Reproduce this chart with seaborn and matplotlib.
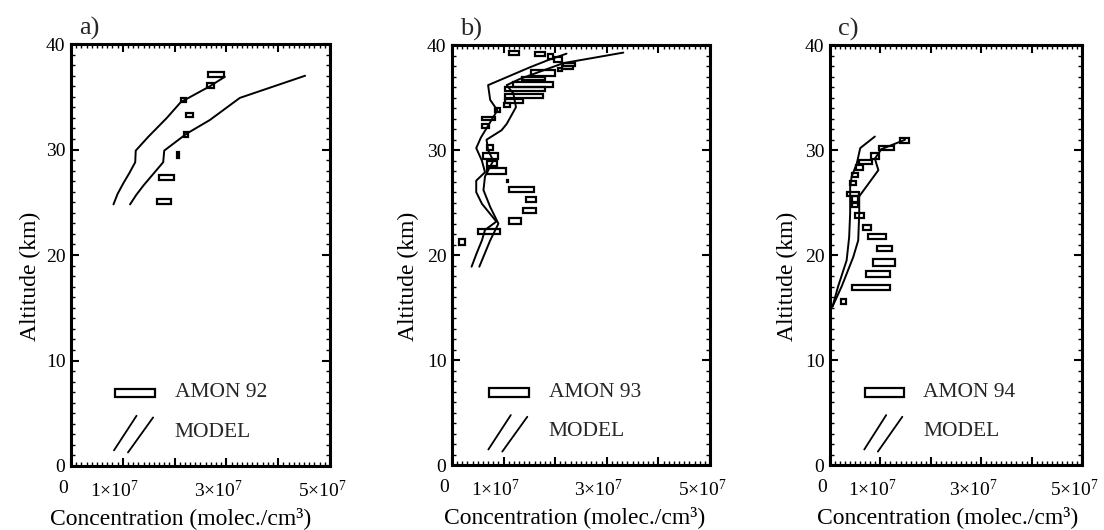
import matplotlib
matplotlib.use("Agg")
import matplotlib.pyplot as plt
import matplotlib.transforms as mtransforms
import seaborn as sns
from matplotlib.ticker import FixedLocator, FixedFormatter, MultipleLocator

# concentrations in units of 1e7 molec./cm3, altitudes in km
a_left_x = [0.82, 0.90, 1.01, 1.13, 1.24, 1.25, 1.49, 1.85, 2.12, 2.68, 2.97]
a_left_z = [24.8, 25.8, 26.8, 27.8, 28.8, 29.9, 31.2, 33.0, 34.5, 36.0, 36.9]
a_right_x = [1.14, 1.26, 1.40, 1.78, 1.80, 2.23, 2.68, 3.26, 4.52]
a_right_z = [24.8, 25.7, 26.6, 28.8, 29.9, 31.5, 32.8, 34.9, 37.0]
a_box_lo = [2.65, 2.62, 2.13, 2.22, 2.19, 2.04, 1.69, 1.67]
a_box_hi = [2.96, 2.77, 2.22, 2.36, 2.25, 2.08, 1.99, 1.94]
a_box_zlo = [36.9, 35.8, 34.5, 33.05, 31.2, 29.2, 27.1, 24.8]
a_box_zhi = [37.4, 36.3, 34.9, 33.5, 31.7, 29.8, 27.6, 25.3]

b_left_x = [0.38, 0.48, 0.58, 0.64, 0.86, 0.58, 0.47, 0.47, 0.64, 0.58, 0.47, 0.56,
            0.72, 0.88, 0.74, 0.70, 1.51, 1.87, 2.22]
b_left_z = [18.9, 20.2, 21.4, 22.4, 23.2, 24.9, 26.0, 27.1, 27.9, 29.0, 30.2, 31.2,
            32.5, 33.8, 34.8, 36.2, 37.9, 38.6, 39.2]
b_right_x = [0.53, 0.74, 0.90, 0.74, 0.61, 0.64, 0.80, 0.70, 0.67, 0.96, 1.06, 1.24,
             1.19, 1.06, 1.32, 2.16, 3.32]
b_right_z = [18.9, 21.4, 23.0, 24.6, 26.2, 27.5, 29.0, 30.0, 31.0, 31.9, 32.5, 34.1,
             35.4, 36.2, 36.8, 38.3, 39.3]
b_box_lo = [1.11, 1.60, 1.87, 1.98, 2.16, 2.13, 2.06, 1.54, 1.35, 1.19, 1.03, 1.03,
            1.03, 1.01, 0.83, 0.59, 0.59, 0.67, 0.61, 0.67, 0.67, 1.06, 1.11, 1.43,
            1.37, 1.10, 0.51, 0.14]
b_box_hi = [1.29, 1.80, 1.96, 2.13, 2.38, 2.35, 2.13, 2.00, 1.80, 1.96, 1.80, 1.77,
            1.38, 1.12, 0.93, 0.83, 0.72, 0.80, 0.90, 0.87, 1.05, 1.08, 1.58, 1.63,
            1.63, 1.34, 0.93, 0.25]
b_box_zlo = [39.1, 39.0, 38.7, 38.4, 38.0, 37.7, 37.5, 37.1, 36.7, 36.0, 35.6, 35.0,
             34.5, 34.1, 33.6, 32.9, 32.1, 30.0, 29.2, 28.5, 27.7, 27.0, 26.0, 25.1,
             24.0, 23.0, 22.0, 21.0]
b_box_zhi = [39.5, 39.4, 39.2, 38.9, 38.3, 38.0, 37.8, 37.6, 37.0, 36.5, 36.0, 35.4,
             34.9, 34.5, 34.0, 33.2, 32.5, 30.5, 29.7, 29.0, 28.3, 27.2, 26.5, 25.5,
             24.5, 23.5, 22.45, 21.5]

c_left_x = [0.05, 0.16, 0.33, 0.38, 0.40, 0.40, 0.43, 0.53, 0.60, 0.89]
c_left_z = [15.1, 17.0, 19.5, 21.7, 24.0, 26.5, 27.5, 28.7, 30.2, 31.3]
c_right_x = [0.05, 0.23, 0.46, 0.56, 0.58, 0.58, 0.96, 0.89, 1.02, 1.49]
c_right_z = [15.1, 17.0, 19.8, 21.4, 24.0, 25.6, 28.1, 29.2, 30.1, 31.0]
c_box_lo = [1.39, 0.98, 0.81, 0.58, 0.52, 0.43, 0.40, 0.33, 0.43, 0.43, 0.50, 0.66,
            0.76, 0.93, 0.85, 0.71, 0.43, 0.22]
c_box_hi = [1.57, 1.27, 0.98, 0.83, 0.65, 0.56, 0.52, 0.58, 0.55, 0.55, 0.67, 0.81,
            1.12, 1.24, 1.29, 1.19, 1.19, 0.32]
c_box_zlo = [30.7, 30.0, 29.2, 28.7, 28.1, 27.4, 26.7, 25.6, 25.1, 24.6, 23.5, 22.4,
             21.5, 20.4, 19.0, 17.9, 16.7, 15.3]
c_box_zhi = [31.2, 30.4, 29.7, 29.1, 28.6, 27.8, 27.1, 26.0, 25.6, 25.0, 24.0, 22.9,
             22.0, 20.9, 19.6, 18.5, 17.2, 15.8]

x_tick_vals = [0, 1, 2, 3, 4, 5]
x_tick_text = ['0', r'$1{\times}10^{7}$', '', r'$3{\times}10^{7}$', '', r'$5{\times}10^{7}$']
y_tick_vals = [0, 10, 20, 30, 40]

panel_tags = ['a)', 'b)', 'c)']
campaigns = ['AMON 92', 'AMON 93', 'AMON 94']

sns.set_style('ticks')
plt.rcParams['font.family'] = ['Liberation Serif', 'DejaVu Serif']
plt.rcParams['mathtext.fontset'] = 'custom'
plt.rcParams['mathtext.rm'] = 'Liberation Serif'
plt.rcParams['mathtext.it'] = 'Liberation Serif'

fig = plt.figure(figsize=(11.04, 5.30), dpi=100)
positions = [[0.0643, 0.1208, 0.2346, 0.796],
             [0.4094, 0.1226, 0.2337, 0.792],
             [0.7518, 0.1226, 0.2283, 0.792]]

panels = [
    (a_left_x, a_left_z, a_right_x, a_right_z, a_box_lo, a_box_hi, a_box_zlo, a_box_zhi),
    (b_left_x, b_left_z, b_right_x, b_right_z, b_box_lo, b_box_hi, b_box_zlo, b_box_zhi),
    (c_left_x, c_left_z, c_right_x, c_right_z, c_box_lo, c_box_hi, c_box_zlo, c_box_zhi),
]
leg_shift = [0.025, 0.0, -0.005]
ylab_x = [-0.158, -0.17, -0.17]
xlab_x = [0.425, 0.477, 0.468]

# x tick labels in the original sit a little left of their ticks
shift_left = mtransforms.ScaledTranslation(-8 / 100, 0, fig.dpi_scale_trans)

for i, (lx, lz, rx, rz, blo, bhi, bzlo, bzhi) in enumerate(panels):
    ax = fig.add_axes(positions[i])
    sns.lineplot(x=lx, y=lz, sort=False, estimator=None, color='black', lw=1.4, ax=ax)
    sns.lineplot(x=rx, y=rz, sort=False, estimator=None, color='black', lw=1.4, ax=ax)
    widths = [h - l for l, h in zip(blo, bhi)]
    heights = [h - l for l, h in zip(bzlo, bzhi)]
    centers = [(l + h) / 2 for l, h in zip(bzlo, bzhi)]
    ax.barh(centers, widths, height=heights, left=blo, fill=False,
            edgecolor='black', linewidth=1.6)

    ax.set_xlim(0, 5)
    ax.set_ylim(0, 40)
    ax.xaxis.set_major_locator(FixedLocator(x_tick_vals))
    ax.xaxis.set_major_formatter(FixedFormatter(x_tick_text))
    ax.xaxis.set_minor_locator(MultipleLocator(0.1))
    ax.yaxis.set_major_locator(FixedLocator(y_tick_vals))
    ax.yaxis.set_minor_locator(MultipleLocator(1))
    ax.tick_params(which='both', direction='in', top=True, right=True, labelsize=14,
                   color='black', labelcolor='black')
    ax.tick_params(which='major', length=6, width=1.5)
    ax.tick_params(which='minor', length=3, width=1.0)
    ax.tick_params(axis='x', which='major', pad=10)
    ax.tick_params(axis='y', which='major', pad=4)
    for lab in ax.get_xticklabels():
        lab.set_transform(lab.get_transform() + shift_left)
    for sp in ax.spines.values():
        sp.set_linewidth(2.2)
        sp.set_color('black')
    ax.set_xlabel('Concentration (molec./cm³)', fontsize=17, color='black', va='center')
    ax.xaxis.set_label_coords(xlab_x[i], -0.123)
    ax.set_ylabel('Altitude (km)', fontsize=17, color='black', va='center')
    ax.yaxis.set_label_coords(ylab_x[i], 0.45)
    ax.text(0.03, 1.01, panel_tags[i], transform=ax.transAxes, fontsize=19,
            ha='left', va='bottom')

    # hand-drawn legend
    s = leg_shift[i]
    ax.add_patch(plt.Rectangle((0.145 + s, 0.163), 0.155, 0.02, transform=ax.transAxes,
                               fill=False, edgecolor='black', lw=1.6))
    ax.text(0.375 + s, 0.173, campaigns[i], transform=ax.transAxes, fontsize=15.5,
            ha='left', va='center')
    ax.plot([0.141 + s, 0.228 + s], [0.037, 0.119], transform=ax.transAxes,
            color='black', lw=1.3)
    ax.plot([0.195 + s, 0.292 + s], [0.032, 0.115], transform=ax.transAxes,
            color='black', lw=1.3)
    ax.text(0.375 + s, 0.08, 'MODEL', transform=ax.transAxes, fontsize=15.5,
            ha='left', va='center')

fig.savefig('out.png', dpi=100)
